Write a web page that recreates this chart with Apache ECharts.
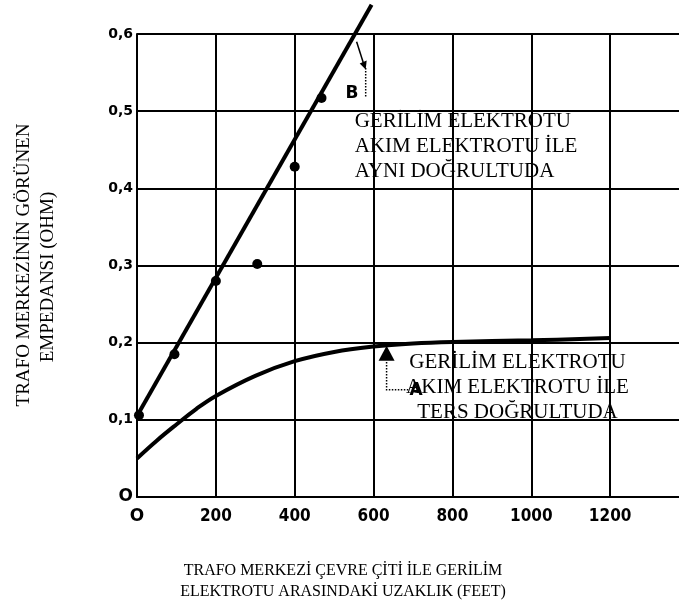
<!DOCTYPE html>
<html>
<head>
<meta charset="utf-8">
<script src="https://cdn.jsdelivr.net/npm/echarts/dist/echarts.min.js"></script>
<style>
  html, body { margin: 0; padding: 0; background: #ffffff; }
  #chart { width: 679px; height: 613px; }
</style>
</head>
<body>
<div id="chart"></div>
<script>
// Axis ticks and their printed labels
const xTicks = [0, 200, 400, 600, 800, 1000, 1200];
const xTickLabels = ['O', '200', '400', '600', '800', '1000', '1200'];
const yTicks = [0, 0.1, 0.2, 0.3, 0.4, 0.5, 0.6];
const yTickLabels = ['O', '0,1', '0,2', '0,3', '0,4', '0,5', '0,6'];

// Curve B: voltage electrode in the same direction as the current electrode
const lineB = [[0, 0.105], [595, 0.638]];
const pointsB = [[5, 0.106], [95, 0.185], [200, 0.280], [305, 0.302], [400, 0.428], [468, 0.517]];

// Curve A: voltage electrode in the opposite direction
const curveA = [
  [0, 0.050], [50, 0.073], [100, 0.094], [150, 0.114], [200, 0.131],
  [300, 0.157], [400, 0.176], [500, 0.188], [600, 0.195], [700, 0.199],
  [800, 0.201], [1000, 0.203], [1200, 0.206]
];

const textB = ['GERİLİM ELEKTROTU', 'AKIM ELEKTROTU İLE', 'AYNI DOĞRULTUDA'];
const textA = ['GERİLİM ELEKTROTU', 'AKIM ELEKTROTU İLE', 'TERS DOĞRULTUDA'];
const yTitle = ['TRAFO MERKEZİNİN GÖRÜNEN', 'EMPEDANSI (OHM)'];
const xTitle = ['TRAFO MERKEZİ ÇEVRE ÇİTİ İLE GERİLİM', 'ELEKTROTU ARASINDAKİ UZAKLIK (FEET)'];

const SERIF = '"Liberation Serif", "Times New Roman", serif';
const BOLD_SANS = '"DejaVu Sans", sans-serif';
const NARROW = '"Liberation Sans Narrow", "DejaVu Sans Condensed", sans-serif';

const chart = echarts.init(document.getElementById('chart'), null, { renderer: 'canvas' });

const black = '#000000';

chart.setOption({
  animation: false,
  backgroundColor: '#ffffff',
  grid: { left: 137, top: 34, width: 552, height: 463, containLabel: false, outerBoundsMode: 'none' },
  xAxis: {
    type: 'value',
    min: 0,
    max: 1400,
    interval: 200,
    axisLine: { show: true, lineStyle: { color: black, width: 2 } },
    axisTick: { show: false },
    splitLine: { show: true, lineStyle: { color: black, width: 2 } },
    axisLabel: {
      margin: 11,
      color: black,
      fontFamily: NARROW,
      fontWeight: 'bold',
      fontSize: 17,
      formatter: function (v) {
        const i = xTicks.indexOf(v);
        if (i < 0) return '';
        return i === 0 ? '{z|' + xTickLabels[i] + '}' : xTickLabels[i];
      },
      rich: { z: { fontFamily: BOLD_SANS, fontWeight: 'bold', fontSize: 17, color: black } }
    }
  },
  yAxis: {
    type: 'value',
    min: 0,
    max: 0.6,
    interval: 0.1,
    axisLine: { show: true, lineStyle: { color: black, width: 2 } },
    axisTick: { show: false },
    splitLine: { show: true, lineStyle: { color: black, width: 2 } },
    axisLabel: {
      margin: 4,
      color: black,
      fontFamily: BOLD_SANS,
      fontWeight: 'bold',
      fontSize: 14,
      formatter: function (v) {
        const i = yTicks.findIndex(t => Math.abs(t - v) < 1e-9);
        if (i < 0) return '';
        return i === 0 ? '{z|' + yTickLabels[i] + '}' : yTickLabels[i];
      },
      rich: { z: { fontFamily: BOLD_SANS, fontWeight: 'bold', fontSize: 17, color: black } }
    }
  },
  series: [
    {
      type: 'line',
      data: lineB,
      clip: false,
      symbol: 'none',
      lineStyle: { color: black, width: 4 },
      z: 3
    },
    {
      type: 'scatter',
      data: pointsB,
      symbol: 'circle',
      symbolSize: 10,
      itemStyle: { color: black, opacity: 1 },
      z: 4
    },
    {
      type: 'line',
      data: curveA,
      smooth: 0.4,
      symbol: 'none',
      lineStyle: { color: black, width: 4 },
      z: 3
    }
  ]
});

// Annotations anchored in data space
function px(x, y) { return chart.convertToPixel({ gridIndex: 0 }, [x, y]); }

function textEl(str, p, font, align, vAlign, lineHeight, rotation) {
  return {
    type: 'text',
    x: p[0], y: p[1],
    rotation: rotation || 0,
    z: 10,
    style: {
      text: str,
      font: font,
      fill: black,
      align: align, verticalAlign: vAlign,
      textAlign: align, textVerticalAlign: vAlign,
      lineHeight: lineHeight
    }
  };
}

const graphics = [];

// Label B with its arrow and dotted leader
const bLabel = px(545, 0.523);
graphics.push(textEl('B', bLabel, 'bold 17px ' + BOLD_SANS, 'center', 'middle', 17));
const bA0 = px(557, 0.590), bA1 = px(575, 0.561);
graphics.push({ type: 'line', z: 10, shape: { x1: bA0[0], y1: bA0[1], x2: bA1[0], y2: bA1[1] }, style: { stroke: black, lineWidth: 1.5 } });
const bTip = px(580, 0.554);
graphics.push({ type: 'polygon', z: 10, shape: { points: [[bTip[0], bTip[1]], [bTip[0] - 6, bTip[1] - 6], [bTip[0] + 1, bTip[1] - 9]] }, style: { fill: black } });
const bD0 = px(580, 0.556), bD1 = px(580, 0.517);
graphics.push({ type: 'line', z: 10, shape: { x1: bD0[0], y1: bD0[1], x2: bD1[0], y2: bD1[1] }, style: { stroke: black, lineWidth: 1.5, lineDash: [1.5, 1.5] } });

// Text block for curve B
const tB = px(552, 0.503);
graphics.push(textEl(textB.join('\n'), tB, '21px ' + SERIF, 'left', 'top', 25));

// Arrow A with dotted leader and label
const aTip = px(633, 0.196);
graphics.push({ type: 'polygon', z: 10, shape: { points: [[aTip[0], aTip[1]], [aTip[0] - 8, aTip[1] + 15], [aTip[0] + 8, aTip[1] + 15]] }, style: { fill: black } });
const aD0 = px(633, 0.175), aD1 = px(633, 0.139), aD2 = px(688, 0.139);
graphics.push({ type: 'polyline', z: 10, shape: { points: [[aD0[0], aD0[1]], [aD1[0], aD1[1]], [aD2[0], aD2[1]]] }, style: { stroke: black, lineWidth: 1.5, lineDash: [1.5, 1.5], fill: null } });
const aLabel = px(708, 0.138);
graphics.push(textEl('A', aLabel, 'bold 17px ' + BOLD_SANS, 'center', 'middle', 17));

// Text block for curve A
const tA = px(965, 0.190);
graphics.push(textEl(textA.join('\n'), tA, '21px ' + SERIF, 'center', 'top', 25));

// Axis titles
graphics.push(textEl(yTitle[0], [24, 265], '19px ' + SERIF, 'center', 'middle', 19, Math.PI / 2));
graphics.push(textEl(yTitle[1], [48, 277], '19px ' + SERIF, 'center', 'middle', 19, Math.PI / 2));
graphics.push(textEl(xTitle.join('\n'), [343, 560], '16px ' + SERIF, 'center', 'top', 21));

chart.setOption({ graphic: graphics });
</script>
</body>
</html>
